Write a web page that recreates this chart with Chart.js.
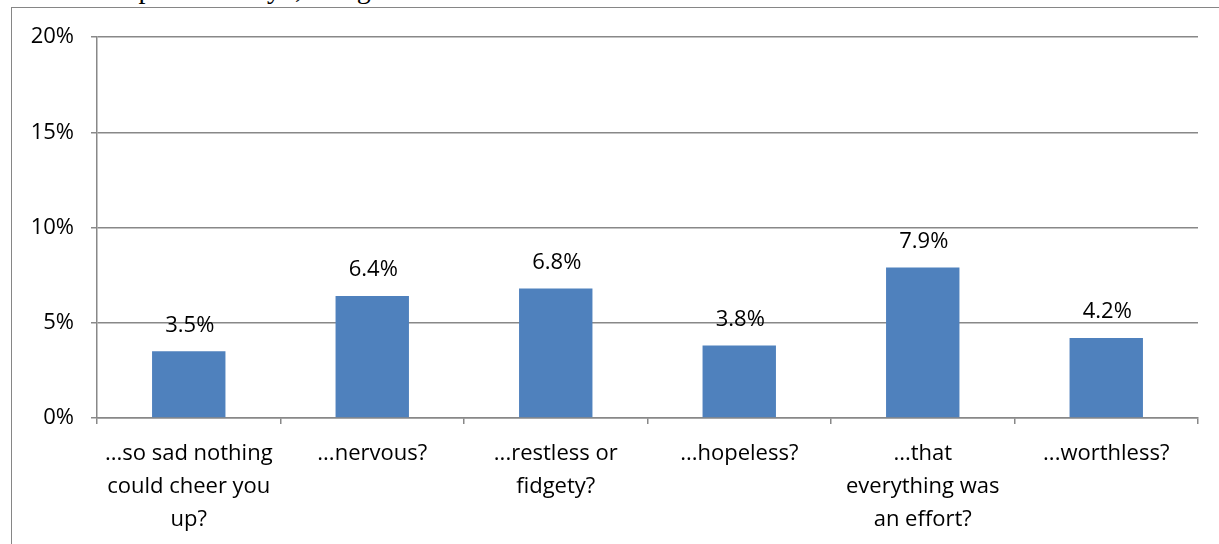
<!DOCTYPE html>
<html>
<head>
<meta charset="utf-8">
<script src="https://cdn.jsdelivr.net/npm/chart.js@4"></script>
<style>
    body{ margin:0; background:#fff; overflow:hidden }
    #wrap{ position:relative; width:1219px; height:544px }
    #heading{
        position:absolute; left:58px; top:-25px;
        font-family:"Liberation Serif","Times New Roman",serif;
        font-size:28px; line-height:28px; letter-spacing:1.5px;
        color:#000; white-space:nowrap
    }
    #frame{
        position:absolute; left:11px; top:7px; width:1220px; height:560px;
        border:1.5px solid #868686; box-sizing:border-box; background:#fff
    }
    #chart{ position:absolute; left:0; top:0 }
</style>
</head>
<body>
<div id="wrap">
    <div id="heading">in the past 30 days, weighted %</div>
    <div id="frame"></div>
    <canvas id="chart" width="1219" height="544"></canvas>
</div>

<script>

const categories = [
    ["...so sad nothing", "could cheer you", "up?"],
    ["...nervous?"],
    ["...restless or", "fidgety?"],
    ["...hopeless?"],
    ["...that", "everything was", "an effort?"],
    ["...worthless?"]
]

const percents = [3.5, 6.4, 6.8, 3.8, 7.9, 4.2]

const yTicks = [0, 5, 10, 15, 20]

const FONT = "'Open Sans', sans-serif"
const GRID = "#888888"


// value labels above each bar
const barLabels = {
    id:"barLabels",
    afterDatasetsDraw(chart){
        const ctx = chart.ctx
        const meta = chart.getDatasetMeta(0)
        ctx.save()
        ctx.font = `22px ${FONT}`
        ctx.fillStyle = "#000"
        ctx.textAlign = "center"
        ctx.textBaseline = "middle"
        meta.data.forEach((bar, i) => {
            ctx.fillText(percents[i].toFixed(1) + "%", bar.x + 1, bar.y - 26)
        })
        ctx.restore()
    }
}


new Chart(document.getElementById("chart"),{
    type:"bar",
    data:{
        labels:categories,
        datasets:[{
            data:percents,
            backgroundColor:"#4F81BD",
            barPercentage:1,
            categoryPercentage:0.4
        }]
    },
    options:{
        responsive:false,
        animation:false,
        layout:{
            padding:{ left:0, top:37, right:21, bottom:0 }
        },
        plugins:{
            legend:{ display:false },
            tooltip:{ enabled:false }
        },
        scales:{
            x:{
                offset:true,
                grid:{
                    offset:true,
                    drawOnChartArea:false,
                    color:GRID,
                    lineWidth:1.5,
                    tickLength:6
                },
                border:{ color:GRID, width:1.5 },
                ticks:{
                    color:"#000",
                    font:{ family:FONT, size:22, lineHeight:1.5 },
                    padding:13,
                    maxRotation:0,
                    autoSkip:false
                },
                afterFit(scale){ scale.height = 126 }
            },
            y:{
                min:0,
                max:20,
                afterBuildTicks(scale){
                    scale.ticks = yTicks.map(v => ({ value:v }))
                },
                grid:{
                    color:GRID,
                    lineWidth:1.5,
                    tickLength:6
                },
                border:{ color:GRID, width:1.5 },
                ticks:{
                    color:"#000",
                    font:{ family:FONT, size:22 },
                    padding:17,
                    callback:v => v + "%"
                },
                afterFit(scale){ scale.width = 97 }
            }
        }
    },
    plugins:[barLabels]
})

</script>
</body>
</html>
